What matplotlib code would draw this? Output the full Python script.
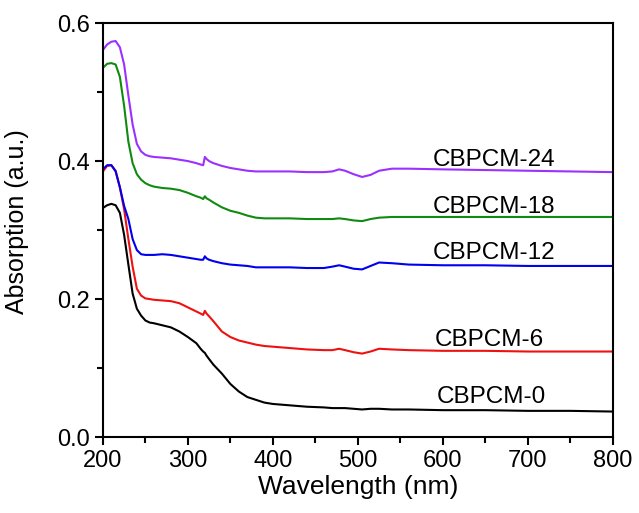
import matplotlib
matplotlib.use("Agg")
import matplotlib.pyplot as plt
from matplotlib.ticker import MultipleLocator

plt.rcParams['font.family'] = ['Liberation Sans', 'DejaVu Sans']

wavelength = [200, 205, 210, 215, 220, 225, 230, 235, 240, 245, 250, 255, 260, 270, 280, 290,
              300, 310, 315, 318, 320, 322, 325, 330, 340, 350, 360, 370, 380, 390, 400, 420,
              440, 460, 470, 478, 485, 495, 505, 515, 525, 540, 560, 600, 650, 700, 750, 800]

cbpcm_0 = [0.332, 0.336, 0.338, 0.336, 0.325, 0.293, 0.250, 0.208, 0.186, 0.176, 0.169, 0.166,
           0.165, 0.162, 0.159, 0.153, 0.145, 0.136, 0.128, 0.124, 0.122, 0.118, 0.113, 0.105,
           0.092, 0.077, 0.066, 0.058, 0.054, 0.050, 0.048, 0.046, 0.044, 0.043, 0.042, 0.042,
           0.042, 0.041, 0.040, 0.041, 0.041, 0.040, 0.040, 0.039, 0.039, 0.038, 0.038, 0.037]

cbpcm_6 = [0.385, 0.393, 0.394, 0.386, 0.362, 0.330, 0.287, 0.247, 0.215, 0.205, 0.201, 0.200,
           0.199, 0.198, 0.197, 0.194, 0.188, 0.182, 0.179, 0.177, 0.183, 0.179, 0.175, 0.168,
           0.153, 0.145, 0.140, 0.137, 0.134, 0.132, 0.131, 0.129, 0.127, 0.126, 0.126, 0.128,
           0.126, 0.123, 0.121, 0.124, 0.128, 0.127, 0.126, 0.125, 0.125, 0.124, 0.124, 0.124]

cbpcm_12 = [0.388, 0.394, 0.394, 0.385, 0.362, 0.335, 0.316, 0.287, 0.271, 0.265, 0.264, 0.264,
            0.264, 0.265, 0.264, 0.262, 0.260, 0.258, 0.257, 0.257, 0.262, 0.259, 0.257, 0.255,
            0.252, 0.250, 0.249, 0.248, 0.246, 0.246, 0.246, 0.246, 0.245, 0.245, 0.247, 0.249,
            0.247, 0.244, 0.243, 0.248, 0.253, 0.252, 0.250, 0.249, 0.249, 0.248, 0.248, 0.248]

cbpcm_18 = [0.535, 0.541, 0.542, 0.540, 0.522, 0.480, 0.428, 0.397, 0.381, 0.373, 0.368, 0.365,
            0.363, 0.361, 0.360, 0.358, 0.354, 0.349, 0.347, 0.345, 0.349, 0.346, 0.344, 0.340,
            0.333, 0.328, 0.325, 0.321, 0.318, 0.317, 0.317, 0.317, 0.316, 0.316, 0.316, 0.317,
            0.316, 0.314, 0.313, 0.316, 0.318, 0.319, 0.319, 0.319, 0.319, 0.319, 0.319, 0.319]

cbpcm_24 = [0.561, 0.569, 0.573, 0.574, 0.565, 0.540, 0.495, 0.453, 0.425, 0.414, 0.409, 0.407,
            0.406, 0.405, 0.404, 0.402, 0.400, 0.397, 0.395, 0.394, 0.406, 0.403, 0.400, 0.397,
            0.393, 0.390, 0.388, 0.386, 0.385, 0.385, 0.385, 0.385, 0.384, 0.384, 0.385, 0.388,
            0.386, 0.381, 0.377, 0.380, 0.386, 0.389, 0.389, 0.388, 0.387, 0.386, 0.385, 0.384]

series = [
    ("CBPCM-0", cbpcm_0, "#000000", (657, 0.058)),
    ("CBPCM-6", cbpcm_6, "#ee1111", (655, 0.140)),
    ("CBPCM-12", cbpcm_12, "#0000ee", (660, 0.267)),
    ("CBPCM-18", cbpcm_18, "#108a10", (660, 0.334)),
    ("CBPCM-24", cbpcm_24, "#9b30ff", (660, 0.401)),
]

fig = plt.figure(figsize=(6.39, 5.13), dpi=100)
ax = fig.add_axes([0.161, 0.148, 0.798, 0.807])

for name, vals, color, (tx, ty) in series:
    ax.plot(wavelength, vals, color=color, lw=1.5)
    ax.text(tx, ty, name, fontsize=17.5, ha='center', va='center', color='black')

ax.set_xlim(200, 800)
ax.set_ylim(0, 0.6)
ax.xaxis.set_major_locator(MultipleLocator(100))
ax.xaxis.set_minor_locator(MultipleLocator(50))
ax.yaxis.set_major_locator(MultipleLocator(0.2))
ax.yaxis.set_minor_locator(MultipleLocator(0.1))
ax.yaxis.set_major_formatter(matplotlib.ticker.FormatStrFormatter('%.1f'))

for s in ax.spines.values():
    s.set_linewidth(1.5)
ax.tick_params(which='major', direction='out', length=6, width=1.5, labelsize=17)
ax.tick_params(which='minor', direction='out', length=4, width=1.5)
ax.tick_params(top=False, right=False, which='both')

ax.set_xlabel("Wavelength (nm)", fontsize=19, labelpad=2)
ax.set_ylabel("Absorption (a.u.)", fontsize=18, labelpad=9)
ax.yaxis.set_label_coords(-0.145, 0.52)

fig.savefig("out.png", dpi=100)
